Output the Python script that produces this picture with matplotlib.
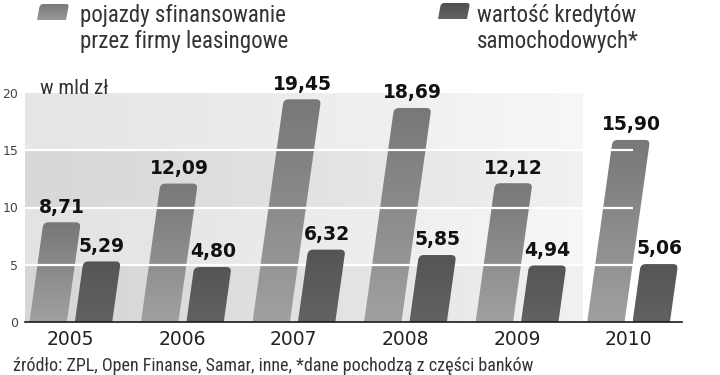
import numpy as np
import matplotlib
matplotlib.use("Agg")
import matplotlib.pyplot as plt
from matplotlib.path import Path
from matplotlib.patches import PathPatch
from matplotlib import font_manager as fm

# data (mld zl)
years = ["2005", "2006", "2007", "2008", "2009", "2010"]
leasing = [8.71, 12.09, 19.45, 18.69, 12.12, 15.90]
credits = [5.29, 4.80, 6.32, 5.85, 4.94, 5.06]
yticks = [0, 5, 10, 15, 20]

legend1 = ["pojazdy sfinansowanie", "przez firmy leasingowe"]
legend2 = ["wartość kredytów", "samochodowych*"]
unit = "w mld zł"
source = "źródło: ZPL, Open Finanse, Samar, inne, *dane pochodzą z części banków"

# pick a narrow font if there is one
names = {f.name for f in fm.fontManager.ttflist}
narrow = "DejaVu Sans"
for n in ["Liberation Sans Narrow", "Roboto Condensed", "Open Sans Condensed"]:
    if n in names:
        narrow = n
        break

W, H = 720, 375
fig = plt.figure(figsize=(7.2, 3.75), dpi=100)
ax = fig.add_axes([25 / W, 53 / H, 657 / W, 229 / H])
xmin, xmax = -0.41, 5.48
ax.set_xlim(xmin, xmax)
ax.set_ylim(0, 20)
ppx = 657 / (xmax - xmin)   # pixels per x unit
ppy = 229 / 20              # pixels per y unit


def slanted(a, x0, w, y0, y1, sx, rx, ry, ctop, cbot, z):
    # parallelogram leaning right, rounded top corners, vertical gradient
    h = y1 - y0
    rx = min(rx, w / 2)
    ry = min(ry, h / 2)
    verts = [(x0, y0), (x0 + w, y0),
             (x0 + w + sx * (h - ry), y1 - ry), (x0 + w + sx * h, y1), (x0 + w + sx * h - rx, y1),
             (x0 + sx * h + rx, y1), (x0 + sx * h, y1), (x0 + sx * (h - ry), y1 - ry),
             (x0, y0)]
    codes = [Path.MOVETO, Path.LINETO,
             Path.LINETO, Path.CURVE3, Path.CURVE3,
             Path.LINETO, Path.CURVE3, Path.CURVE3,
             Path.CLOSEPOLY]
    patch = PathPatch(Path(verts, codes), fc="none", ec="none", zorder=z)
    a.add_patch(patch)
    t = np.linspace(0, 1, 64)[:, None, None]
    grad = np.array(ctop)[None, None, :] + (np.array(cbot) - np.array(ctop))[None, None, :] * t
    im = a.imshow(grad, extent=[x0, x0 + w + sx * h, y0, y1], aspect="auto",
                  origin="upper", interpolation="bilinear", zorder=z)
    im.set_clip_path(patch)


def gray(v):
    return (v / 255, v / 255, v / 255)


# background bands fading to white
left = [0xd6, 0xe3, 0xd8, 0xe6]
right = [0xf1, 0xf7, 0xf1, 0xf7]
t = np.linspace(0, 1, 300) ** 1.3
bg = np.array([[l + (r - l) * t] for l, r in zip(left, right)])[:, 0, :] / 255
bg = np.dstack([bg, bg, bg])
bg_right = (583 - 71) / ppx
ax.imshow(bg, extent=[xmin, bg_right, 0, 20], aspect="auto", origin="lower",
          interpolation="nearest", zorder=0)

w = 0.335
sx = 1.6 / ppx  # lean per unit of value
rx, ry = 5 / ppx, 5 / ppy
for i, (a, b) in enumerate(zip(leasing, credits)):
    slanted(ax, i - 0.37, w, 0, a, sx, rx, ry, gray(0x78), gray(0xa0), 2)
    slanted(ax, i + 0.037, w, 0, b, sx, rx, ry, gray(0x55), gray(0x62), 4)
    for x0, v in [(i - 0.37, a), (i + 0.037, b)]:
        ax.annotate(f"{v:.2f}".replace(".", ","), (x0 + w / 2 + sx * v, v),
                    xytext=(0, 7), textcoords="offset points", ha="center", va="baseline",
                    fontsize=13.5, fontweight="bold", family="DejaVu Sans", color="#111111",
                    annotation_clip=False, zorder=6)

ax.hlines([5, 10, 15], xmin, 5.04, colors="white", lw=1.6, zorder=3)

ax.set_xlim(xmin, xmax)
ax.set_ylim(0, 20)
for s in ["top", "left", "right"]:
    ax.spines[s].set_visible(False)
ax.spines["bottom"].set_color("#1a1a1a")
ax.spines["bottom"].set_linewidth(1.2)
ax.spines["bottom"].set_zorder(5)
ax.set_xticks(range(len(years)), years)
ax.set_yticks(yticks)
ax.tick_params(axis="x", length=0, pad=6, labelsize=13.5, labelcolor="#222222")
ax.tick_params(axis="y", length=0, pad=5, labelsize=9, labelcolor="#444444")

# overlay in pixel units for legend
ov = fig.add_axes([0, 0, 1, 1])
ov.set_xlim(0, W)
ov.set_ylim(0, H)
ov.axis("off")
slanted(ov, 37, 29, H - 20, H - 4, 3 / 16, 3, 3, gray(0x7a), gray(0x98), 2)
slanted(ov, 438, 29, H - 19, H - 3, 3 / 16, 3, 3, gray(0x50), gray(0x62), 2)

for k, line in enumerate(legend1):
    fig.text(80 / W, 1 - (22 + 26 * k) / H, line, fontsize=16.5, family=narrow,
             color="#333333", va="baseline")
for k, line in enumerate(legend2):
    fig.text(477 / W, 1 - (22 + 26 * k) / H, line, fontsize=16.5, family=narrow,
             color="#333333", va="baseline")
fig.text(40 / W, 1 - 94 / H, unit, fontsize=15, family=narrow, color="#333333", va="baseline")
fig.text(13 / W, 1 - 371 / H, source, fontsize=13, family=narrow, color="#333333", va="baseline")

fig.savefig("out.png", dpi=100, facecolor="white")
